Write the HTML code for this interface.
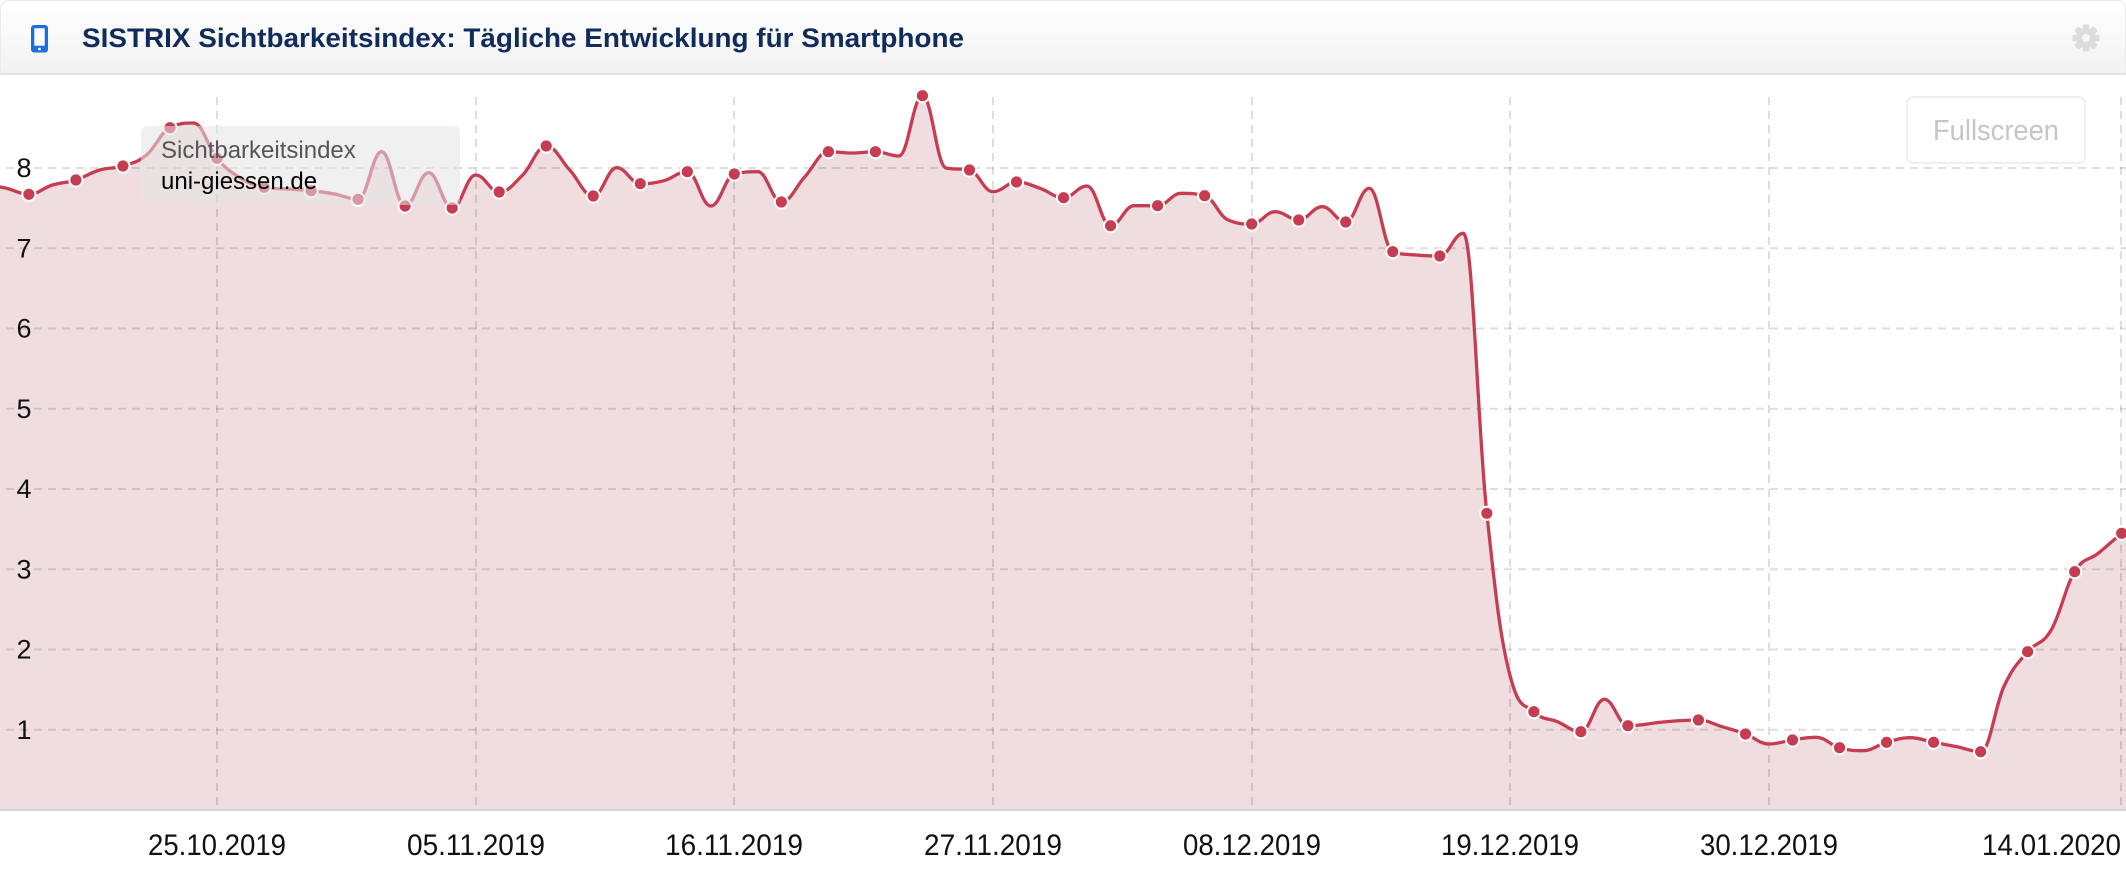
<!DOCTYPE html>
<html><head><meta charset="utf-8">
<style>
html,body{margin:0;padding:0;background:#fff;}
body{width:2126px;height:876px;overflow:hidden;}
svg{display:block;}
</style></head>
<body>
<svg id="c" width="2126" height="876" viewBox="0 0 2126 876" xmlns="http://www.w3.org/2000/svg">
<defs>
<linearGradient id="hg" x1="0" y1="0" x2="0" y2="1"><stop offset="0" stop-color="#ffffff"/><stop offset="1" stop-color="#f1f1f1"/></linearGradient>
<clipPath id="pc"><rect x="0" y="76" width="2126" height="735"/></clipPath>
</defs>
<rect x="0" y="0" width="2126" height="876" fill="#fff"/>
<!-- header -->
<rect x="0.5" y="0.5" width="2125" height="80" rx="8" fill="url(#hg)" stroke="#ebebeb"/>
<rect x="0" y="75" width="2126" height="10" fill="#fff"/>
<rect x="0" y="73" width="2126" height="2" fill="#e2e2e2"/>
<!-- phone icon -->
<rect x="31" y="25" width="17" height="27.5" rx="3" fill="#1c6fe0"/>
<rect x="34.3" y="28.3" width="10.4" height="17.4" fill="#fff"/>
<circle cx="39.5" cy="49" r="1.4" fill="#fff"/>
<text x="82" y="47" font-family="Liberation Sans, sans-serif" font-weight="bold" font-size="27" fill="#102b5c" textLength="882" lengthAdjust="spacingAndGlyphs">SISTRIX Sichtbarkeitsindex: Tägliche Entwicklung für Smartphone</text>
<!-- gear -->
<g transform="translate(2086 38)" fill="#dcdcdc">
<rect x="-3.3" y="-13.5" width="6.6" height="27" rx="1"/>
<rect x="-3.3" y="-13.5" width="6.6" height="27" rx="1" transform="rotate(45)"/>
<rect x="-3.3" y="-13.5" width="6.6" height="27" rx="1" transform="rotate(90)"/>
<rect x="-3.3" y="-13.5" width="6.6" height="27" rx="1" transform="rotate(135)"/>
<circle r="10"/>
<circle r="4" fill="#f6f6f6"/>
</g>

<g clip-path="url(#pc)">
<path id="area" d="" fill="#f0dde0"/>
<g id="fb" transform="translate(217 0) scale(23.515 1)"><polyline id="fbl" fill="none" stroke="#c63d52" stroke-width="3" vector-effect="non-scaling-stroke" points=""/></g>
<!-- grid -->
<g stroke="rgba(0,0,0,0.13)" stroke-width="2" stroke-dasharray="8,6" fill="none">
<line x1="6" y1="168" x2="2126" y2="168"/>
<line x1="6" y1="248.25" x2="2126" y2="248.25"/>
<line x1="6" y1="328.5" x2="2126" y2="328.5"/>
<line x1="6" y1="408.75" x2="2126" y2="408.75"/>
<line x1="6" y1="489" x2="2126" y2="489"/>
<line x1="6" y1="569.25" x2="2126" y2="569.25"/>
<line x1="6" y1="649.5" x2="2126" y2="649.5"/>
<line x1="6" y1="729.75" x2="2126" y2="729.75"/>
<line x1="217" y1="97" x2="217" y2="810"/>
<line x1="476" y1="97" x2="476" y2="810"/>
<line x1="734" y1="97" x2="734" y2="810"/>
<line x1="993" y1="97" x2="993" y2="810"/>
<line x1="1252" y1="97" x2="1252" y2="810"/>
<line x1="1510" y1="97" x2="1510" y2="810"/>
<line x1="1769" y1="97" x2="1769" y2="810"/>
<line x1="2121" y1="97" x2="2121" y2="810"/>
</g>
<path id="line" d="" fill="none" stroke="#c63d52" stroke-width="3.3" stroke-linejoin="round" stroke-linecap="round"/>
<g id="markers" fill="#c63d52" stroke="#fff" stroke-width="2"></g>
</g>
<rect x="0" y="809" width="2126" height="2" fill="#d4d4d4"/>

<!-- y labels -->
<g font-family="Liberation Sans, sans-serif" font-size="27" fill="#111" text-anchor="middle">
<text x="24" y="177">8</text>
<text x="24" y="257.5">7</text>
<text x="24" y="337.5">6</text>
<text x="24" y="418">5</text>
<text x="24" y="498">4</text>
<text x="24" y="578.5">3</text>
<text x="24" y="658.5">2</text>
<text x="24" y="739">1</text>
</g>
<!-- x labels -->
<g font-family="Liberation Sans, sans-serif" font-size="30" fill="#111">
<text x="148" y="855" textLength="138" lengthAdjust="spacingAndGlyphs">25.10.2019</text>
<text x="407" y="855" textLength="138" lengthAdjust="spacingAndGlyphs">05.11.2019</text>
<text x="665" y="855" textLength="138" lengthAdjust="spacingAndGlyphs">16.11.2019</text>
<text x="924" y="855" textLength="138" lengthAdjust="spacingAndGlyphs">27.11.2019</text>
<text x="1183" y="855" textLength="138" lengthAdjust="spacingAndGlyphs">08.12.2019</text>
<text x="1441" y="855" textLength="138" lengthAdjust="spacingAndGlyphs">19.12.2019</text>
<text x="1700" y="855" textLength="138" lengthAdjust="spacingAndGlyphs">30.12.2019</text>
<text x="1982" y="855" textLength="139" lengthAdjust="spacingAndGlyphs">14.01.2020</text>
</g>

<!-- fullscreen button -->
<rect x="1907" y="97" width="178" height="66" rx="6" fill="#fff" stroke="#efefef" stroke-width="2"/>
<text x="1933" y="140" font-family="Liberation Sans, sans-serif" font-size="29" fill="#c6c6c6" textLength="126" lengthAdjust="spacingAndGlyphs">Fullscreen</text>

<!-- tooltip -->
<rect x="141" y="126" width="319" height="79" rx="6" fill="rgb(228,228,228)" fill-opacity="0.55"/>
<text x="161" y="158" font-family="Liberation Sans, sans-serif" font-size="24" fill="#555">Sichtbarkeitsindex</text>
<text x="161" y="189" font-family="Liberation Sans, sans-serif" font-size="24" fill="#000">uni-giessen.de</text>
</svg>
<script>
(function(){
var data=[[-10,184],[-9,188],[-8,194.3],[-7,185],[-6,180],[-5,170],[-4,166],[-3,155],[-2,127.7],[-1,123],[0,158.3],[1,178],[2,187.3],[3,189],[4,190.7],[5,194],[6,199.3],[7,151.7],[8,206],[9,172.7],[10,208],[11,175],[12,192],[13,175],[14,146],[15,170],[16,196],[17,167.7],[18,183.7],[19,180.7],[20,171.7],[21,206],[22,174],[23,171.7],[24,202],[25,176.7],[26,151.7],[27,153],[28,151.7],[29,156],[30,95.7],[31,168],[32,170],[33,191.7],[34,182],[35,188.3],[36,197.7],[37,186],[38,225.7],[39,205.7],[40,205.7],[41,193.3],[42,195.7],[43,220],[44,224],[45,211.7],[46,220],[47,206.7],[48,222],[49,188.3],[50,251.7],[51,255],[52,256],[53,233.3],[54,513.3],[55,676.7],[56,711.7],[57,721.7],[58,731.7],[59,699.3],[60,725.7],[61.5,722],[63,720],[64,726.7],[65,734],[66,744],[67,740],[68,737.3],[69,747.7],[70,750.7],[71,742.3],[72,737.7],[73,742.3],[74,746.7],[75,751.7],[76,686],[77,651.7],[78,630],[79,571.7],[80,553.3],[81,533.3],[82,515]];
var fbp=data.map(function(p){return p[0]+','+p[1];}).join(' ');
document.getElementById('fbl').setAttribute('points',fbp);
var X=function(d){return 217+23.515*d;};
var pts=data.map(function(p){return [X(p[0]),p[1]];});
var n=pts.length,rc=[],path='';
for(var i=0;i<n;i++){
 var x=pts[i][0],y=pts[i][1],lcx=x,lcy=y,rcx=x,rcy=y;
 if(i>0&&i<n-1){
  var lx=pts[i-1][0],ly=pts[i-1][1],nx=pts[i+1][0],ny=pts[i+1][1];
  lcx=(1.5*x+lx)/2.5;lcy=(1.5*y+ly)/2.5;rcx=(1.5*x+nx)/2.5;rcy=(1.5*y+ny)/2.5;
  var corr=0;if(rcx!==lcx){corr=((rcy-lcy)*(rcx-x))/(rcx-lcx)+y-rcy;}
  lcy+=corr;rcy+=corr;
  if(lcy>ly&&lcy>y){lcy=Math.max(ly,y);rcy=2*y-lcy;}else if(lcy<ly&&lcy<y){lcy=Math.min(ly,y);rcy=2*y-lcy;}
  if(rcy>ny&&rcy>y){rcy=Math.max(ny,y);lcy=2*y-rcy;}else if(rcy<ny&&rcy<y){rcy=Math.min(ny,y);lcy=2*y-rcy;}
 }
 if(i===0){path='M'+x.toFixed(2)+','+y.toFixed(2);}
 else{path+=' C'+rc[i-1][0].toFixed(2)+','+rc[i-1][1].toFixed(2)+' '+lcx.toFixed(2)+','+lcy.toFixed(2)+' '+x.toFixed(2)+','+y.toFixed(2);}
 rc[i]=[rcx,rcy];
}
document.getElementById('line').setAttribute('d',path);
document.getElementById('area').setAttribute('d',path+' L'+pts[n-1][0].toFixed(2)+',810 L'+pts[0][0].toFixed(2)+',810 Z');
document.getElementById('fb').setAttribute('display','none');
var g=document.getElementById('markers'),ns='http://www.w3.org/2000/svg';
data.forEach(function(p){
 var d=p[0],m=false;
 if(d>=-8&&d<=60&&Math.abs(d%2)===0)m=true;
 if(d>=63&&d<=81&&Math.abs(d%2)===1)m=true;
 if(m){var c=document.createElementNS(ns,'circle');c.setAttribute('cx',X(d).toFixed(2));c.setAttribute('cy',p[1]);c.setAttribute('r','6.6');g.appendChild(c);}
});
})();
</script>
</body></html>
